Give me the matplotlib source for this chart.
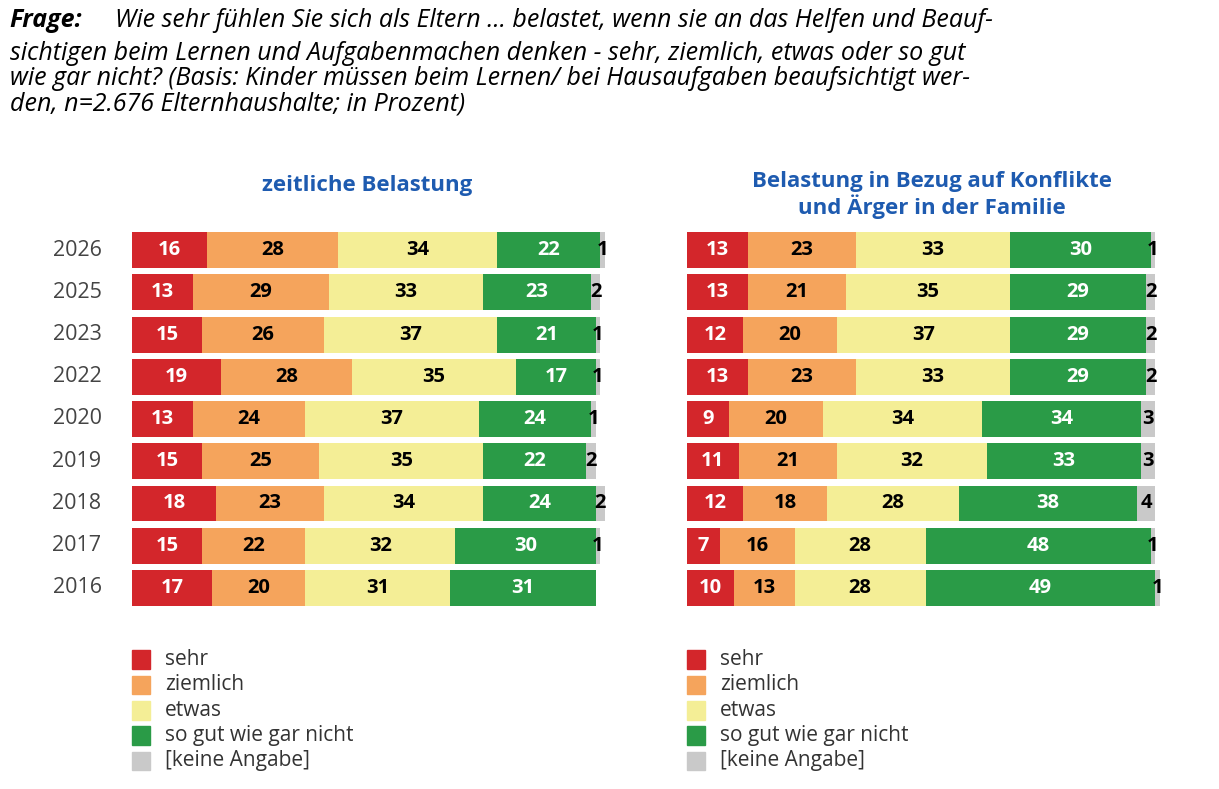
import matplotlib.pyplot as plt
from matplotlib.patches import Rectangle

years = ['2026', '2025', '2023', '2022', '2020', '2019', '2018', '2017', '2016']
categories = ['sehr', 'ziemlich', 'etwas', 'so gut wie gar nicht', '[keine Angabe]']

zeit_sehr = [16, 13, 15, 19, 13, 15, 18, 15, 17]
zeit_ziemlich = [28, 29, 26, 28, 24, 25, 23, 22, 20]
zeit_etwas = [34, 33, 37, 35, 37, 35, 34, 32, 31]
zeit_garnicht = [22, 23, 21, 17, 24, 22, 24, 30, 31]
zeit_ka = [1, 2, 1, 1, 1, 2, 2, 1, 0]

konf_sehr = [13, 13, 12, 13, 9, 11, 12, 7, 10]
konf_ziemlich = [23, 21, 20, 23, 20, 21, 18, 16, 13]
konf_etwas = [33, 35, 37, 33, 34, 32, 28, 28, 28]
konf_garnicht = [30, 29, 29, 29, 34, 33, 38, 48, 49]
konf_ka = [1, 2, 2, 2, 3, 3, 4, 1, 1]

colors = ['#d3262b', '#f5a45c', '#f4ee96', '#2a9b47', '#c9c9c9']
text_colors = ['white', 'black', 'black', 'white', 'black']
FONT = 'Open Sans'

fig = plt.figure(figsize=(12.19, 7.89), dpi=100)

fig.text(0.008, 0.99, 'Frage:', fontsize=18, fontweight='bold', fontstyle='italic',
         family=FONT, va='top')
fig.text(0.094, 0.99, 'Wie sehr fühlen Sie sich als Eltern ... belastet, wenn sie an das Helfen und Beauf-',
         fontsize=18, fontstyle='italic', family=FONT, va='top')
fig.text(0.008, 0.99 - 0.042,
         'sichtigen beim Lernen und Aufgabenmachen denken - sehr, ziemlich, etwas oder so gut\n'
         'wie gar nicht? (Basis: Kinder müssen beim Lernen/ bei Hausaufgaben beaufsichtigt wer-\n'
         'den, n=2.676 Elternhaushalte; in Prozent)',
         fontsize=18, fontstyle='italic', family=FONT, va='top', linespacing=1.0)


def draw(ax, series):
    n = len(years)
    for i in range(n):
        left = 0
        for k, s in enumerate(series):
            v = s[i]
            if v == 0:
                continue
            ax.barh(i, v, left=left, height=0.85, color=colors[k], edgecolor='none')
            ax.text(left + v / 2, i, str(v), ha='center', va='center', fontsize=14.5,
                    fontweight='bold', color=text_colors[k], family=FONT)
            left += v
    ax.set_ylim(n - 0.5, -0.5)
    ax.set_xlim(0, 101)
    ax.axis('off')
    for k, c in enumerate(categories):
        ly = n + 0.7 + k * 0.6
        ax.add_patch(Rectangle((0, ly - 0.22), 3.8, 0.44, color=colors[k], clip_on=False))
        ax.text(7, ly, c, va='center', fontsize=15, color='#333333', family=FONT)


ax1 = fig.add_axes([132 / 1219, 1 - 609 / 789, 473 / 1219, 380 / 789])
draw(ax1, [zeit_sehr, zeit_ziemlich, zeit_etwas, zeit_garnicht, zeit_ka])
for i, yr in enumerate(years):
    ax1.text(-6.5, i, yr, ha='right', va='center', fontsize=15.5, color='#444444', family=FONT)
fig.text(367 / 1219, 1 - 185 / 789, 'zeitliche Belastung', ha='center', va='center',
         fontsize=16, fontweight='bold', color='#1e5bb0', family=FONT)

ax2 = fig.add_axes([687 / 1219, 1 - 609 / 789, 473 / 1219, 380 / 789])
draw(ax2, [konf_sehr, konf_ziemlich, konf_etwas, konf_garnicht, konf_ka])
fig.text(932 / 1219, 1 - 195 / 789, 'Belastung in Bezug auf Konflikte\nund Ärger in der Familie',
         ha='center', va='center', fontsize=16, fontweight='bold', color='#1e5bb0',
         family=FONT, linespacing=1.1)

fig.savefig('out.png', dpi=100)
